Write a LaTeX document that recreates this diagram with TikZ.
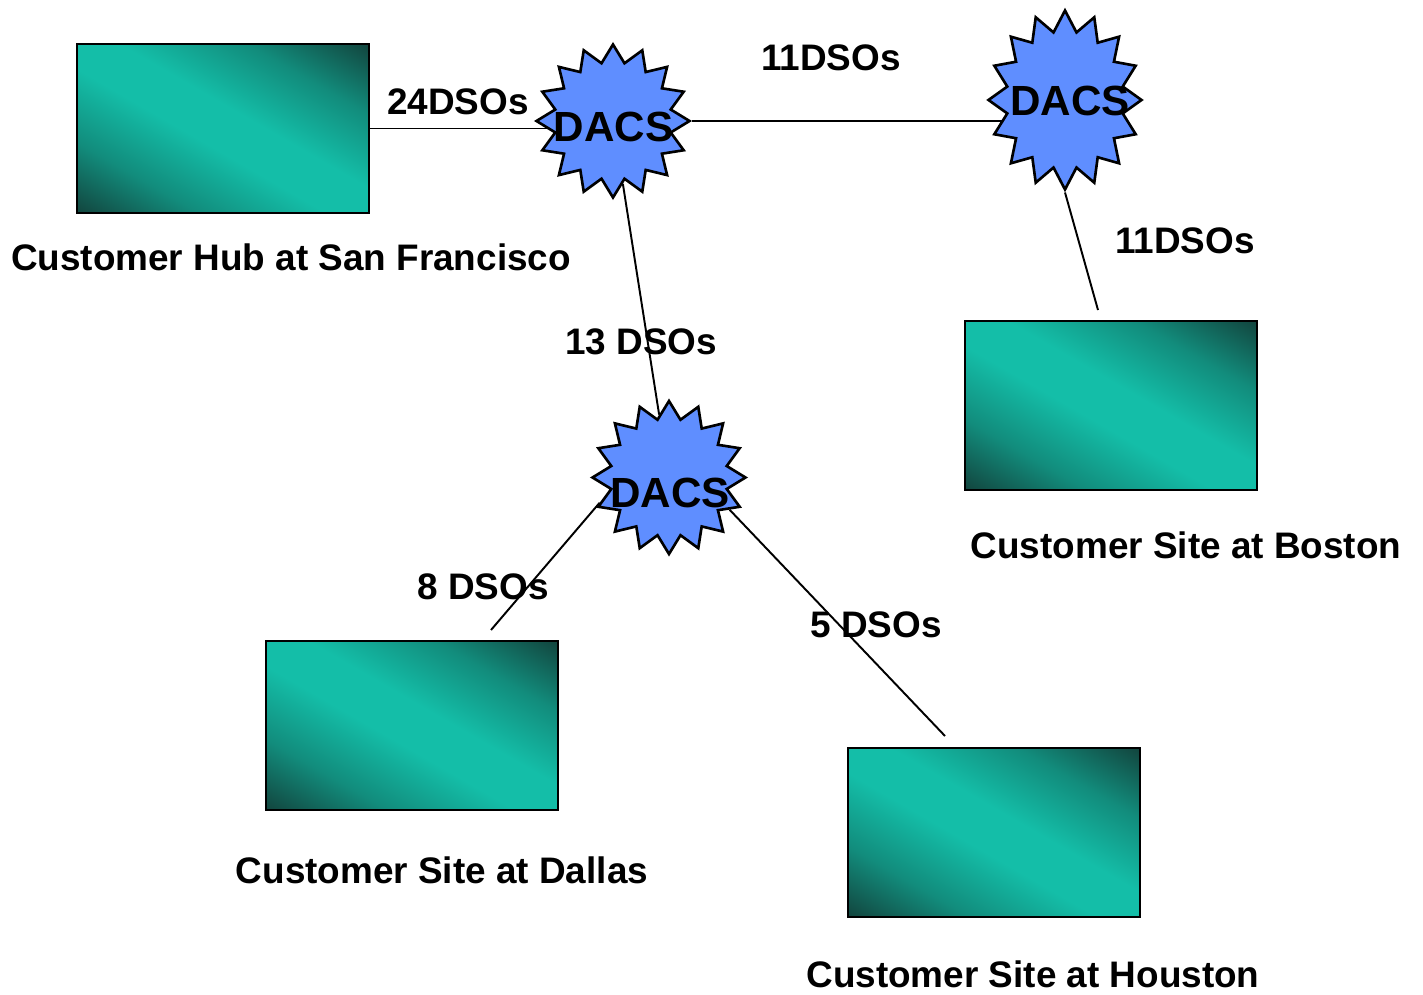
\documentclass[tikz,border=0pt]{standalone}
\usepackage{fontspec}
\setmainfont{Liberation Sans}
\usepackage{tikz}
\usetikzlibrary{
  shapes.geometric,
  positioning,
  calc,
  backgrounds
}
\definecolor{sitelight}{RGB}{20, 190, 168}
\definecolor{sitemid}{RGB}{18, 140, 124}
\definecolor{sitedark}{RGB}{18, 60, 54}
\definecolor{dacscolor}{RGB}{95, 142, 255}
\definecolor{linecolor}{RGB}{0, 0, 0}
\pgfdeclareverticalshading{sitegrad}{100bp}{
  color(0bp)=(sitedark); color(14bp)=(sitedark); color(30bp)=(sitemid);
  color(45bp)=(sitelight); color(55bp)=(sitelight); color(70bp)=(sitemid);
  color(86bp)=(sitedark); color(100bp)=(sitedark)}
\tikzset{
labeltext/.style={
  font=\fontsize{21}{25}\selectfont\bfseries,
  text=black,
  inner sep=0pt
},
myline/.style={
  line width=1.1pt,
  draw=linecolor
}
}

\begin{document}
\begin{tikzpicture}[
    % Estilos dos nós
    sitenode/.style={
        rectangle,
        draw=black,
        line width=1.2pt,
        shade,
        shading=sitegrad,
        shading angle=-30,
        minimum width=5.84cm,
        minimum height=3.38cm,
        inner sep=0pt
    },
    dacsnode/.style={
        star,
        star points=16,
        star point ratio=1.3,
        draw=black,
        fill=dacscolor,
        line width=1.5pt,
        minimum size=3.06cm,
        inner sep=0pt
    },
    dacslabel/.style={
        font=\fontsize{24}{28}\selectfont\bfseries,
        inner sep=0pt
    },
    sitelabel/.style={labeltext},
    dsolabel/.style={labeltext}
]
\useasboundingbox (0, 0) rectangle (28.46, 19.88);

% ============================================================================
% Sites dos clientes
% ============================================================================
\node[sitenode] (sf) at (4.46, 17.31) {};
\node[sitenode] (boston) at (22.22, 11.77) {};
\node[sitenode] (dallas) at (8.24, 5.37) {};
\node[sitenode] (houston) at (19.88, 3.23) {};

\node[sitelabel] (sflbl) at (5.82, 14.74) {Customer Hub at San Francisco};
\node[sitelabel] (bostonlbl) at (23.72, 8.98) {Customer Site at Boston};
\node[sitelabel] (dallaslbl) at (8.84, 2.48) {Customer Site at Dallas};
\node[sitelabel] (houstonlbl) at (20.66, 0.40) {Customer Site at Houston};

% ============================================================================
% DACS
% ============================================================================
\node[dacsnode] (dacs1) at (12.26, 17.46) {};
\node[dacsnode, yscale=1.17] (dacs2) at (21.30, 17.88) {};
\node[dacsnode] (dacs3) at (13.38, 10.33) {};

\node[dacslabel] (dacs1lbl) at (12.27, 17.34) {DACS};
\node[dacslabel] (dacs2lbl) at (21.40, 17.86) {DACS};
\node[dacslabel] (dacs3lbl) at (13.40, 10.02) {DACS};

% ============================================================================
% Ligações
% ============================================================================
\coordinate (bostonend) at (21.96, 13.68);
\coordinate (dallasend) at (9.82, 7.28);
\coordinate (houstonend) at (18.90, 5.16);

\begin{scope}[on background layer]
\draw[myline] (sf.east) -- (sf.east -| dacs1);
\draw[myline] (dacs1) -- (dacs1 -| dacs2);
\draw[myline] (dacs1) -- (dacs3);
\end{scope}
\draw[myline] (dacs2.south) -- (bostonend);
\draw[myline] (dacs3.200) -- (dallasend);
\draw[myline] (dacs3.-28) -- (houstonend);

% ============================================================================
% Número de DSOs
% ============================================================================
\node[dsolabel] (dso24) at (9.16, 17.84) {24DSOs};
\node[dsolabel] (dso11a) at (16.62, 18.72) {11DSOs};
\node[dsolabel] (dso11b) at (23.70, 15.06) {11DSOs};
\node[dsolabel] (dso13) at (12.82, 13.04) {13 DSOs};
\node[dsolabel] (dso8) at (9.66, 8.14) {8 DSOs};
\node[dsolabel] (dso5) at (17.52, 7.38) {5 DSOs};

\end{tikzpicture}
\end{document}
